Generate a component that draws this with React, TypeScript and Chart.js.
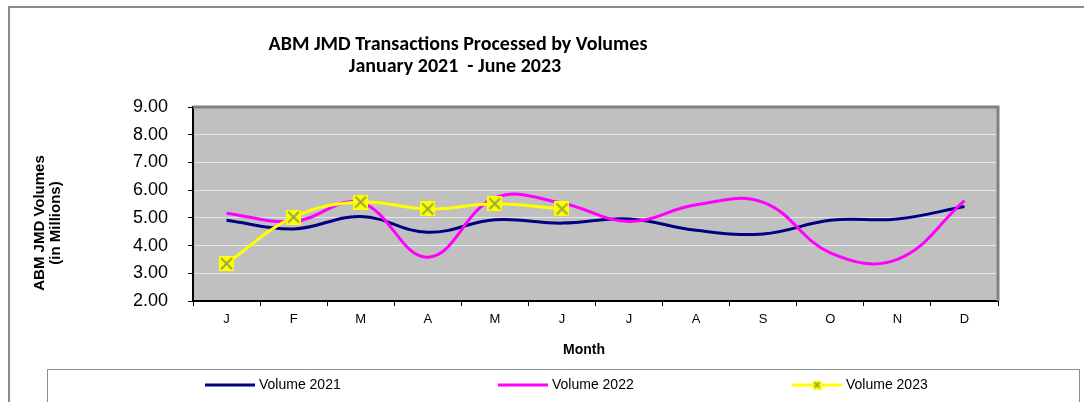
import React, { useEffect, useRef } from "react";
import { Chart, registerables } from "chart.js";

Chart.register(...registerables);

const months = ["J", "F", "M", "A", "M", "J", "J", "A", "S", "O", "N", "D"];
const volume2021 = [4.91, 4.6, 5.05, 4.48, 4.93, 4.81, 4.96, 4.55, 4.42, 4.91, 4.96, 5.41];
const volume2022 = [5.17, 4.87, 5.55, 3.58, 5.72, 5.53, 4.87, 5.47, 5.56, 3.74, 3.5, 5.62];
const volume2023 = [3.35, 5.03, 5.57, 5.32, 5.51, 5.32];
const yTicksMin = 2;
const yTicksMax = 9;
const titleLines = ["ABM JMD Transactions Processed by Volumes", "January 2021  - June 2023"];
const yTitleLines = ["ABM JMD Volumes", "(in Millions)"];
const xTitle = "Month";
const seriesNames = ["Volume 2021", "Volume 2022", "Volume 2023"];

const ARIAL = '"Liberation Sans", Arial, sans-serif';
const TITLE_FONT = 'bold 20px Carlito, "Liberation Sans Narrow", "Liberation Sans", sans-serif';

function makeMarker(size: number) {
  const c = document.createElement("canvas");
  c.width = size;
  c.height = size;
  const g = c.getContext("2d")!;
  g.fillStyle = "#ffff00";
  g.fillRect(0, 0, size, size);
  g.strokeStyle = "#9aa83a";
  g.lineWidth = 2;
  g.beginPath();
  g.moveTo(2, 2);
  g.lineTo(size - 2, size - 2);
  g.moveTo(size - 2, 2);
  g.lineTo(2, size - 2);
  g.stroke();
  return c;
}

export default function App() {
  const ref = useRef<HTMLCanvasElement>(null);
  useEffect(() => {
    const canvas = ref.current!;
    const marker = makeMarker(15);
    const smallMarker = makeMarker(9);

    const decor = {
      id: "decor",
      beforeDraw(chart: any) {
        const { ctx, chartArea } = chart;
        ctx.save();
        ctx.fillStyle = "#fff";
        ctx.fillRect(0, 0, chart.width, chart.height);
        // outer frame
        ctx.strokeStyle = "#8c8c8c";
        ctx.lineWidth = 2;
        ctx.beginPath();
        ctx.moveTo(9, chart.height + 2);
        ctx.lineTo(9, 7);
        ctx.lineTo(chart.width + 2, 7);
        ctx.stroke();
        // plot bg
        ctx.fillStyle = "#c0c0c0";
        ctx.fillRect(chartArea.left, chartArea.top, chartArea.right - chartArea.left, chartArea.bottom - chartArea.top);
        ctx.restore();
      },
      afterDraw(chart: any) {
        const { ctx, chartArea } = chart;
        ctx.save();
        // plot top/right border
        ctx.strokeStyle = "#808080";
        ctx.lineWidth = 3;
        ctx.beginPath();
        ctx.moveTo(chartArea.left, chartArea.top);
        ctx.lineTo(chartArea.right, chartArea.top);
        ctx.lineTo(chartArea.right, chartArea.bottom);
        ctx.stroke();
        // title
        ctx.fillStyle = "#000";
        ctx.font = TITLE_FONT;
        ctx.textAlign = "center";
        ctx.textBaseline = "middle";
        ctx.fillText(titleLines[0], 458, 45);
        ctx.fillText(titleLines[1], 455, 67);
        // y title
        ctx.font = "bold 15px " + ARIAL;
        ctx.save();
        ctx.translate(40, 223);
        ctx.rotate(-Math.PI / 2);
        ctx.fillText(yTitleLines[0], 0, 0);
        ctx.restore();
        ctx.save();
        ctx.translate(56, 223);
        ctx.rotate(-Math.PI / 2);
        ctx.fillText(yTitleLines[1], 0, 0);
        ctx.restore();
        // x title
        ctx.font = "bold 14px " + ARIAL;
        ctx.fillText(xTitle, 584, 350);
        // legend box
        ctx.strokeStyle = "#8c8c8c";
        ctx.lineWidth = 1;
        ctx.beginPath();
        ctx.moveTo(47.5, chart.height + 2);
        ctx.lineTo(47.5, 369.5);
        ctx.lineTo(1079.5, 369.5);
        ctx.lineTo(1079.5, chart.height + 2);
        ctx.stroke();
        const colors = ["#000080", "#ff00ff", "#ffff00"];
        const xs = [205, 498, 792];
        ctx.font = "14px " + ARIAL;
        ctx.textAlign = "left";
        for (let i = 0; i < 3; i++) {
          ctx.strokeStyle = colors[i];
          ctx.lineWidth = 3;
          ctx.beginPath();
          ctx.moveTo(xs[i], 385);
          ctx.lineTo(xs[i] + 50, 385);
          ctx.stroke();
          if (i === 2) ctx.drawImage(smallMarker, xs[i] + 25 - 4.5, 385 - 4.5);
          ctx.fillStyle = "#000";
          ctx.fillText(seriesNames[i], xs[i] + 54, 385);
        }
        ctx.restore();
      },
    };

    const chart = new Chart(canvas, {
      type: "line",
      data: {
        labels: months,
        datasets: [
          {
            label: seriesNames[0],
            data: volume2021,
            borderColor: "#000080",
            borderWidth: 3,
            pointRadius: 0,
            tension: 0.4,
            order: 2,
          },
          {
            label: seriesNames[1],
            data: volume2022,
            borderColor: "#ff00ff",
            borderWidth: 3,
            pointRadius: 0,
            tension: 0.4,
            order: 1,
          },
          {
            label: seriesNames[2],
            data: volume2023,
            borderColor: "#ffff00",
            borderWidth: 3,
            pointStyle: marker as any,
            pointRadius: 7,
            tension: 0.4,
            order: 0,
          },
        ],
      },
      options: {
        animation: false,
        responsive: false,
        layout: { padding: { left: 0, top: 107, right: 86, bottom: 61 } },
        plugins: { legend: { display: false }, tooltip: { enabled: false }, title: { display: false } },
        scales: {
          x: {
            offset: true,
            afterFit: (s: any) => {
              s.height = 40;
            },
            grid: {
              display: true,
              offset: true,
              drawOnChartArea: false,
              tickLength: 5,
              tickColor: "#000",
            },
            border: { color: "#000", width: 2 },
            ticks: { color: "#000", font: { family: ARIAL, size: 13 }, padding: 6, maxRotation: 0, autoSkip: false },
          },
          y: {
            min: yTicksMin,
            max: yTicksMax,
            afterFit: (s: any) => {
              s.width = 193;
            },
            grid: { color: "#e6e6e6", lineWidth: 1, tickLength: 5, tickColor: "#000" },
            border: { color: "#000", width: 2 },
            ticks: {
              stepSize: 1,
              color: "#000",
              font: { family: ARIAL, size: 18 },
              padding: 20,
              callback: (v: any) => Number(v).toFixed(2),
            },
          },
        },
      },
      plugins: [decor],
    });
    return () => chart.destroy();
  }, []);
  return (
    <div style={{ position: "absolute", left: 0, top: 0, width: 1084, height: 402 }}>
      <canvas ref={ref} width={1084} height={402} />
    </div>
  );
}
